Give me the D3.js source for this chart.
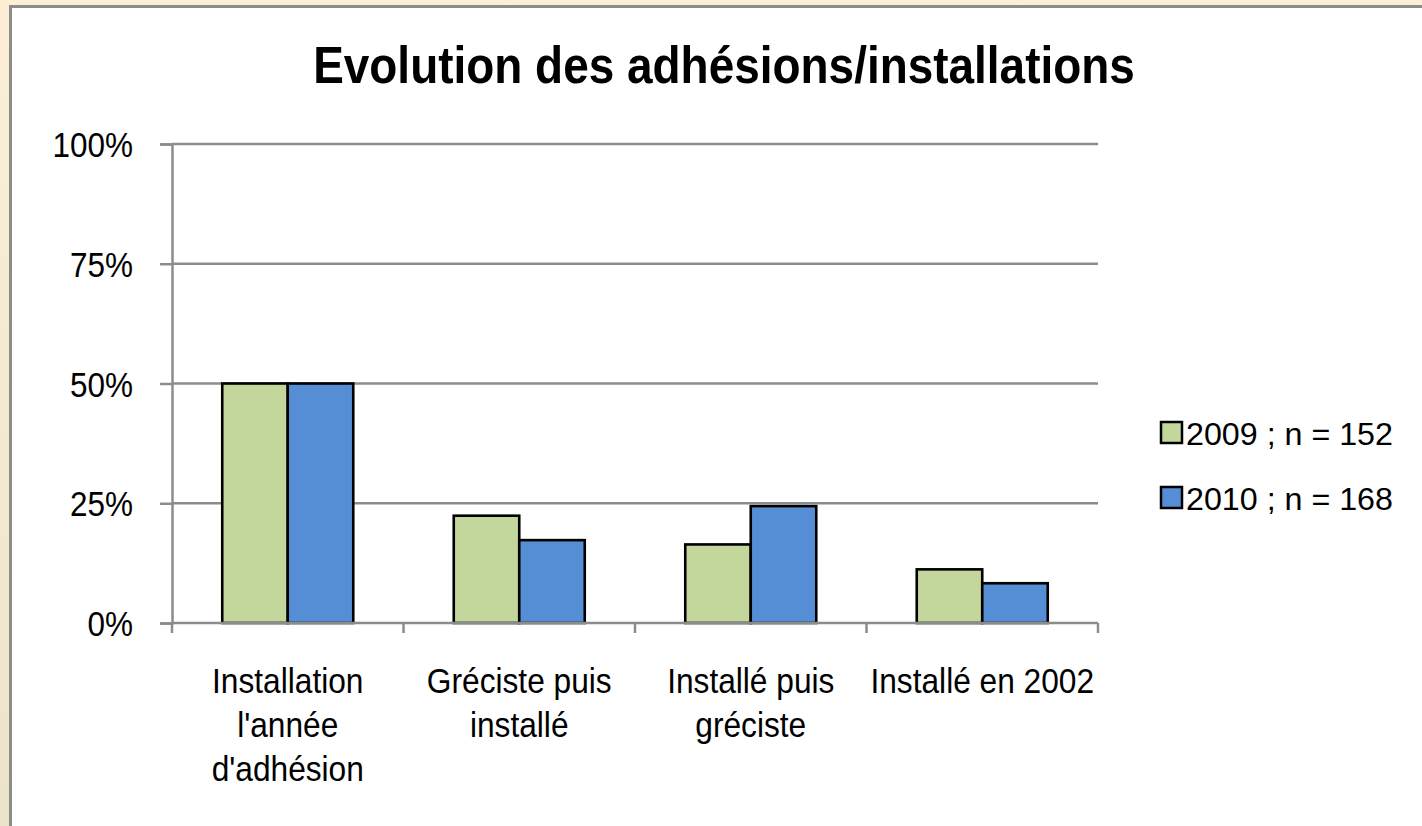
<!DOCTYPE html>
<html><head><meta charset="utf-8">
<script src="https://cdn.jsdelivr.net/npm/d3@7"></script>
<style>
html,body{margin:0;padding:0;overflow:hidden;}
svg{display:block;}
text{font-family:"Liberation Sans Narrow","Arial Narrow","Liberation Sans",Arial,sans-serif;fill:#000;}
</style></head>
<body>
<script>
const categories = [["Installation","l'année","d'adhésion"],["Gréciste puis","installé"],["Installé puis","gréciste"],["Installé en 2002"]];
const seriesNames = ["2009 ; n = 152","2010 ; n = 168"];
const values2009 = [0.50, 0.224, 0.164, 0.112];
const values2010 = [0.50, 0.173, 0.244, 0.083];
const tickValues = [0, 0.25, 0.5, 0.75, 1];
const tickLabels = ["0%","25%","50%","75%","100%"];
const colors = ["#C3D69B","#558ED5"];

const W=1422,H=826;
const svg=d3.select("body").append("svg").attr("width",W).attr("height",H);
const defs=svg.append("defs");
const g=defs.append("linearGradient").attr("id","bg").attr("x1",0).attr("y1",0).attr("x2",0).attr("y2",1);
g.append("stop").attr("offset","0").attr("stop-color","#FCEFD5");
g.append("stop").attr("offset","1").attr("stop-color","#ECE4CA");
svg.append("rect").attr("width",W).attr("height",H).attr("fill","url(#bg)");
svg.append("rect").attr("x",9).attr("y",5).attr("width",W).attr("height",H).attr("fill","#8C8C8C");
svg.append("rect").attr("x",12).attr("y",8).attr("width",W).attr("height",H).attr("fill","#fff");

// horizontal squeeze around anchor x
function squeeze(sel, ax, f){
  sel.attr("transform",`translate(${ax},0) scale(${f},1) translate(${-ax},0)`);
}

const catKeys = categories.map((c,i)=>i);
const x=d3.scaleBand().domain(catKeys).range([172,1098]);
const y=d3.scaleLinear().domain([0,1]).range([623,144]);
const groupW=131;
const x1=d3.scaleBand().domain([0,1]).range([0,groupW]);

// gridlines
svg.append("g").selectAll("line").data(tickValues.filter(v=>v>0)).join("line")
  .attr("x1",172).attr("x2",1098).attr("y1",d=>y(d)).attr("y2",d=>y(d))
  .attr("stroke","#8C8C8C").attr("stroke-width",2.5);

// y axis
const ya=svg.append("g").attr("transform","translate(172,0)")
  .call(d3.axisLeft(y).tickValues(tickValues).tickFormat((d,i)=>tickLabels[i]).tickSize(12).tickPadding(27));
ya.select(".domain").attr("stroke","#8C8C8C").attr("stroke-width",2.5);
ya.selectAll(".tick line").attr("stroke","#8C8C8C").attr("stroke-width",2.5);
ya.selectAll(".tick text").attr("font-size",35).attr("font-family",null).attr("dy","0.36em")
  .each(function(){ squeeze(d3.select(this), -39, 0.9); });

// bars
const data=[values2009,values2010];
const bg=svg.append("g");
catKeys.forEach(ci=>{
  data.forEach((vals,si)=>{
    bg.append("rect")
      .attr("x",x(ci)+(x.bandwidth()-groupW)/2+x1(si))
      .attr("y",y(vals[ci]))
      .attr("width",x1.bandwidth())
      .attr("height",y(0)-y(vals[ci]))
      .attr("fill",colors[si]).attr("stroke","#000").attr("stroke-width",2.6);
  });
});

// x axis
const xa=svg.append("g");
xa.append("line").attr("x1",172).attr("x2",1098).attr("y1",623).attr("y2",623).attr("stroke","#8C8C8C").attr("stroke-width",2.5);
const bounds=catKeys.map(c=>x(c)).concat([x(catKeys[catKeys.length-1])+x.bandwidth()]);
xa.selectAll(".t").data(bounds).join("line").attr("x1",d=>d).attr("x2",d=>d).attr("y1",623).attr("y2",633).attr("stroke","#8C8C8C").attr("stroke-width",2.5);

// category labels
catKeys.forEach(ci=>{
  const cx=x(ci)+x.bandwidth()/2;
  const t=svg.append("text").attr("text-anchor","middle").attr("font-size",36)
    .attr("x",cx).attr("y",693);
  categories[ci].forEach((line,li)=>{
    t.append("tspan").attr("x",cx).attr("dy",li===0?0:44).text(line);
  });
  squeeze(t, cx, 0.88);
});

// title
const title=svg.append("text").attr("x",724).attr("y",83).attr("text-anchor","middle")
  .attr("font-size",52).attr("font-weight","bold").text("Evolution des adhésions/installations");
const tw=title.node().getComputedTextLength();
squeeze(title, 724, 822/tw);

// legend
const lg=svg.append("g");
seriesNames.forEach((s,i)=>{
  const yy=422+i*65;
  lg.append("rect").attr("x",1161).attr("y",yy).attr("width",21).attr("height",21)
    .attr("fill",colors[i]).attr("stroke","#000").attr("stroke-width",2.5);
  const lt=lg.append("text").attr("x",1186).attr("y",yy+23).attr("font-size",32).text(s);
  const w=lt.node().getComputedTextLength();
  squeeze(lt, 1186, 207/w);
});
</script>
</body></html>
